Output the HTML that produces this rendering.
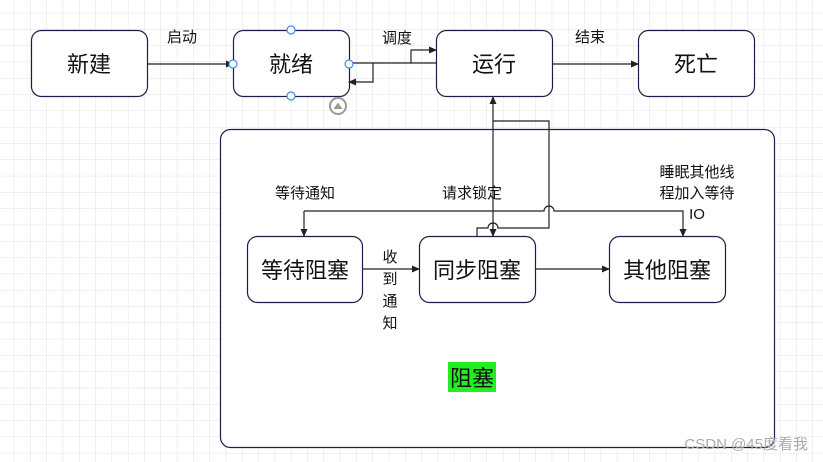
<!DOCTYPE html>
<html><head><meta charset="utf-8"><style>
html,body{margin:0;padding:0;background:#fff}
svg{display:block}
text{font-family:"Liberation Sans","Noto Sans CJK SC",sans-serif;fill:#111}
</style></head><body>
<svg width="823" height="462" viewBox="0 0 823 462" xmlns="http://www.w3.org/2000/svg">
<defs>
<pattern id="g" x="-2" y="-3" width="16.3" height="16.3" patternUnits="userSpaceOnUse">
<path d="M16.3 0V16.3M0 16.3H16.3" stroke="#e2e2e2" stroke-width="1" fill="none"/>
</pattern>
<marker id="a" markerWidth="8" markerHeight="8" refX="7" refY="4" orient="auto" markerUnits="userSpaceOnUse">
<path d="M0,0.5 L8,4 L0,7.5 Z" fill="#222"/></marker>
</defs>
<rect width="823" height="462" fill="url(#g)"/>
<rect x="220.5" y="129.5" width="554" height="318" rx="10" fill="#fff" stroke="#1a1f4a" stroke-width="1.2"/>
<g fill="#fff" stroke="#1a1f4a" stroke-width="1.2">
<rect x="31.5" y="30.5" width="116" height="66" rx="10"/>
<rect x="233.5" y="30.5" width="116" height="66" rx="10"/>
<rect x="436.5" y="30.5" width="116" height="66" rx="10"/>
<rect x="638.5" y="30.5" width="116" height="66" rx="10"/>
<rect x="247.5" y="236.5" width="115" height="66" rx="10"/>
<rect x="419.5" y="236.5" width="116" height="66" rx="10"/>
<rect x="609.5" y="236.5" width="116" height="66" rx="10"/>
</g>
<g stroke="#222" stroke-width="1.2" fill="none">
<path d="M147 64H233" marker-end="url(#a)"/>
<path d="M349 63H436"/>
<path d="M411 63V50H436" marker-end="url(#a)"/>
<path d="M373 63V82H349" marker-end="url(#a)"/>
<path d="M552 64H638" marker-end="url(#a)"/>
<path d="M493 236V97" marker-end="url(#a)"/>
<path d="M493 121H549V228H498a5 5 0 0 0-10 0H477V236"/>
<path d="M493 222V236" marker-end="url(#a)"/>
<path d="M304 211H544a5 5 0 0 1 10 0H683V236" marker-end="url(#a)"/>
<path d="M304 211V236" marker-end="url(#a)"/>
<path d="M362 269H419" marker-end="url(#a)"/>
<path d="M535 269H609" marker-end="url(#a)"/>
</g>
<g font-size="22" text-anchor="middle">
<text x="89" y="72">新建</text>
<text x="291" y="72">就绪</text>
<text x="494" y="72">运行</text>
<text x="696" y="72">死亡</text>
<text x="305" y="278">等待阻塞</text>
<text x="477" y="278">同步阻塞</text>
<text x="667" y="278">其他阻塞</text>
</g>
<g font-size="15" text-anchor="middle">
<text x="182" y="42">启动</text>
<text x="397" y="43">调度</text>
<text x="590" y="42">结束</text>
<text x="305" y="198">等待通知</text>
<text x="472" y="198">请求锁定</text>
<text x="697" y="177">睡眠其他线</text>
<text x="697" y="198">程加入等待</text>
<text x="697" y="219">IO</text>
<text x="390" y="262">收</text>
<text x="390" y="284">到</text>
<text x="390" y="306">通</text>
<text x="390" y="328">知</text>
</g>
<rect x="448" y="362" width="48" height="30" fill="#22ee22"/>
<text x="472" y="386" font-size="22" text-anchor="middle">阻塞</text>
<g fill="#fff" stroke="#3d8bf0" stroke-width="1.2">
<circle cx="291" cy="30" r="4"/><circle cx="291" cy="96" r="4"/>
<circle cx="233" cy="64" r="4"/><circle cx="349" cy="64" r="4"/>
</g>
<circle cx="338" cy="106" r="8" fill="#fff" stroke="#999" stroke-width="2"/>
<path d="M333.5 109L338 102.5L342.5 109Z" fill="#999"/>
<text x="808" y="449" font-size="15" text-anchor="end" style="fill:#aaa">CSDN @45度看我</text>
</svg>
</body></html>
